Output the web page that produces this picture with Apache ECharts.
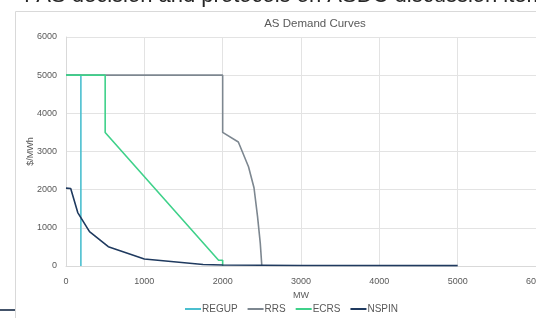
<!DOCTYPE html>
<html>
<head>
<meta charset="utf-8">
<script src="https://cdn.jsdelivr.net/npm/echarts@6/dist/echarts.min.js"></script>
<style>
  html, body { margin: 0; padding: 0; background: #fff; }
  #chart { width: 536px; height: 318px; }
</style>
</head>
<body>
<div id="chart"></div>
<script>
// demand curves, [MW, $/MWh]
var regup = [[0, 5000], [190, 5000], [190, 0]]
var rrs = [[0, 5000], [2000, 5000], [2000, 3500], [2200, 3250], [2330, 2600], [2400, 2050], [2445, 1300], [2480, 600], [2500, 0]]
var ecrs = [[0, 5000], [500, 5000], [500, 3500], [1945, 155], [2000, 150], [2000, 0]]
var nspin = [[0, 2040], [60, 2030], [150, 1400], [300, 900], [540, 505], [1000, 185], [1750, 40], [2000, 25], [3000, 15], [5000, 10]]

var xTicks = [0, 1000, 2000, 3000, 4000, 5000, 6000]
var yTicks = [0, 1000, 2000, 3000, 4000, 5000, 6000]

var font = 'Liberation Sans, Arial, sans-serif'
var lbl = { color: '#595959', fontSize: 9, fontFamily: font }

var myChart = echarts.init(document.getElementById('chart'))

function line(name, data, color) {
  return {
    name: name, type: 'line', data: data, symbol: 'none',
    lineStyle: { color: color, width: 1.6 }, itemStyle: { color: color },
    animation: false
  }
}

myChart.setOption({
  animation: false,
  title: {
    text: 'AS Demand Curves', left: 310, top: 13, textAlign: 'center',
    textStyle: { color: '#595959', fontSize: 11.5, fontWeight: 'normal', fontFamily: font }
  },
  graphic: [
    { type: 'rect', shape: { x: 15.5, y: 11.5, width: 600, height: 400 }, style: { fill: 'none', stroke: '#d9d9d9', lineWidth: 1 }, z: -1 },
    { type: 'line', shape: { x1: 0, y1: 310, x2: 15, y2: 310 }, style: { stroke: '#44546a', lineWidth: 2 } },
    { type: 'text', x: 24, y: 7, style: { text: 'f AS decision and protocols on ASDC discussion items', font: '22px Liberation Sans', fill: '#262626', verticalAlign: 'bottom' } }
  ],
  grid: { left: 66, right: 0, top: 37, bottom: 52, containLabel: false, outerBoundsMode: 'none' },
  legend: {
    bottom: -1, left: 180, itemGap: 10, itemWidth: 16, itemHeight: 2, icon: 'rect',
    textStyle: { color: '#595959', fontSize: 10, fontFamily: font, padding: [0, 0, 0, -4] },
    data: ['REGUP', 'RRS', 'ECRS', 'NSPIN']
  },
  xAxis: {
    type: 'value', min: xTicks[0], max: xTicks[xTicks.length - 1], interval: 1000,
    name: 'MW', nameLocation: 'middle', nameGap: 25, nameTextStyle: lbl, nameMoveOverlap: false,
    axisLine: { lineStyle: { color: '#d9d9d9' } }, axisTick: { show: false },
    axisLabel: Object.assign({ margin: 11, formatter: function (v) { return String(v) } }, lbl),
    splitLine: { lineStyle: { color: '#e3e3e3' } }
  },
  yAxis: {
    type: 'value', min: yTicks[0], max: yTicks[yTicks.length - 1], interval: 1000,
    name: '$/MWh', nameLocation: 'middle', nameGap: 31, nameTextStyle: lbl, nameMoveOverlap: false,
    axisLine: { show: true, lineStyle: { color: '#d9d9d9' } }, axisTick: { show: false },
    axisLabel: Object.assign({ margin: 9, formatter: function (v) { return String(v) } }, lbl),
    splitLine: { lineStyle: { color: '#e3e3e3' } }
  },
  series: [
    line('REGUP', regup, '#4bbfcf'),
    line('RRS', rrs, '#7d8790'),
    line('ECRS', ecrs, '#3fd18a'),
    line('NSPIN', nspin, '#1f3a5f')
  ]
})
</script>
</body>
</html>
